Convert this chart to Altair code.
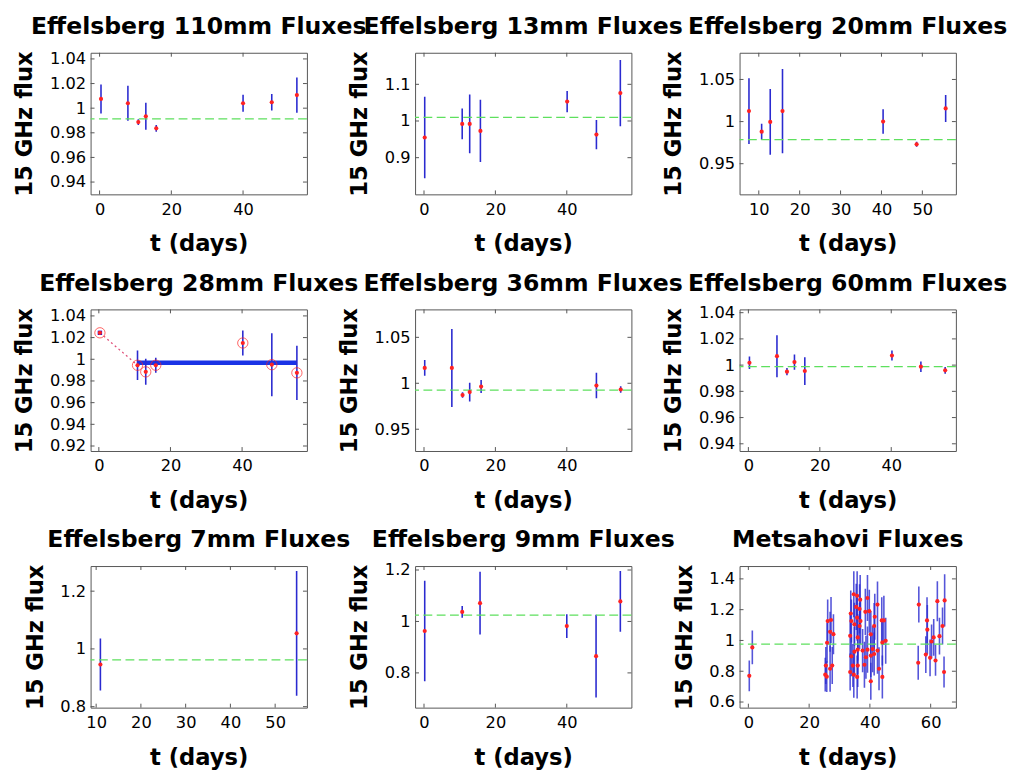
import altair as alt
import pandas as pd

FONT = "DejaVu Sans"
W, H = 220, 144
BLUE = "#2a2ad0"
RED = "#ff2222"
GREEN = "#5ee05e"
FRAME = "#555555"

TITLES = ["Effelsberg 110mm Fluxes", "Effelsberg 13mm Fluxes", "Effelsberg 20mm Fluxes",
          "Effelsberg 28mm Fluxes", "Effelsberg 36mm Fluxes", "Effelsberg 60mm Fluxes",
          "Effelsberg 7mm Fluxes", "Effelsberg 9mm Fluxes", "Metsahovi Fluxes"]
X_TITLE = "t (days)"
Y_TITLE = "15 GHz flux"

# ---- Effelsberg 110mm
T_110 = [0.4, 7.9, 10.8, 12.9, 15.8, 40.0, 48.0, 55.0]
F_110 = [1.0075, 1.0040, 0.9887, 0.9934, 0.9836, 1.0040, 1.0048, 1.0106]
E_110 = [0.0118, 0.0143, 0.0023, 0.0110, 0.0028, 0.0070, 0.0067, 0.0144]
M_110 = 0.9913

# ---- Effelsberg 13mm
T_13 = [0.2, 10.7, 12.8, 15.8, 40.1, 48.3, 55.0]
F_13 = [0.955, 0.992, 0.992, 0.973, 1.053, 0.963, 1.076]
E_13 = [0.111, 0.042, 0.080, 0.085, 0.029, 0.040, 0.090]
M_13 = 1.0099

# ---- Effelsberg 20mm
T_20 = [7.6, 10.7, 12.8, 15.8, 40.4, 48.6, 55.7]
F_20 = [1.0125, 0.9880, 0.9996, 1.0125, 1.0000, 0.9730, 1.0156]
E_20 = [0.0390, 0.0095, 0.0390, 0.0500, 0.0145, 0.0030, 0.0160]
M_20 = 0.9786

# ---- Effelsberg 28mm
T_28 = [0.3, 10.8, 13.1, 15.9, 40.2, 48.3, 55.3]
F_28 = [1.0244, 0.9945, 0.9884, 0.9945, 1.0150, 0.9950, 0.9875]
E_28 = [0.0, 0.0135, 0.0120, 0.0070, 0.0115, 0.0290, 0.0250]
FIT_28_T = [10.8, 55.3]
FIT_28_F = 0.9968

# ---- Effelsberg 36mm
T_36 = [0.2, 7.8, 10.8, 12.8, 16.0, 48.3, 55.1]
F_36 = [1.0167, 1.0167, 0.9872, 0.9904, 0.9964, 0.9975, 0.9932]
E_36 = [0.0086, 0.0425, 0.0030, 0.0102, 0.0071, 0.0139, 0.0035]
M_36 = 0.9925

# ---- Effelsberg 60mm
T_60 = [0.3, 8.0, 10.8, 12.9, 15.8, 40.2, 48.3, 55.1]
F_60 = [1.0018, 1.0068, 0.9950, 1.0023, 0.9955, 1.0073, 0.9988, 0.9960]
E_60 = [0.0048, 0.0160, 0.0028, 0.0058, 0.0106, 0.0038, 0.0040, 0.0025]
M_60 = 0.9988

# ---- Effelsberg 7mm
T_7 = [10.95, 54.8]
F_7 = [0.946, 1.054]
E_7 = [0.090, 0.216]
M_7 = 0.962

# ---- Effelsberg 9mm
T_9 = [0.2, 10.7, 15.7, 40.0, 48.2, 55.0]
F_9 = [0.963, 1.037, 1.071, 0.982, 0.865, 1.078]
E_9 = [0.195, 0.023, 0.122, 0.046, 0.161, 0.118]
M_9 = 1.0244

# ---- Metsahovi
T_MET = [0.3, 1.3, 25.3, 25.5, 25.8, 25.9, 26.1, 26.9, 26.9, 27.2, 27.6, 28.0,
         33.5, 33.5, 33.7, 33.9, 33.9, 34.4, 34.7, 34.7, 34.9, 34.9, 35.5, 35.8,
         35.8, 35.8, 36.0, 36.0, 36.0, 36.6, 36.6, 36.8, 36.9, 37.6, 38.2, 38.5,
         38.7, 39.2, 39.2, 39.8, 40.3, 40.3, 40.3, 40.9, 41.4, 41.4, 41.6, 42.5,
         42.5, 43.0, 43.9, 44.1, 44.1, 44.6, 45.2, 55.9, 56.1, 58.4, 58.8, 58.9,
         59.8, 60.3, 61.0, 61.6, 62.2, 62.9, 63.9, 64.4, 64.6]
F_MET = [0.770, 0.955, 0.778, 0.837, 0.765, 0.985, 1.126, 1.056, 0.816, 1.133, 0.837, 1.041,
         1.030, 0.795, 1.175, 1.126, 0.897, 0.837, 1.300, 0.778, 1.105, 0.927, 1.218, 1.290,
         1.148, 0.763, 1.020, 0.940, 0.837, 1.205, 1.094, 1.265, 1.126, 0.934, 0.842, 1.186,
         0.891, 1.276, 0.940, 1.190, 1.040, 0.902, 0.735, 0.944, 1.094, 0.912, 1.154, 1.233,
         0.934, 0.816, 1.130, 0.987, 0.763, 1.130, 0.998, 0.855, 1.233, 0.908, 1.130, 1.070,
         0.887, 0.993, 1.020, 0.870, 1.255, 1.028, 1.094, 0.795, 1.260]
E_MET = [0.100, 0.110, 0.110, 0.120, 0.100, 0.130, 0.140, 0.130, 0.150, 0.150, 0.120, 0.130,
         0.140, 0.120, 0.150, 0.140, 0.130, 0.140, 0.150, 0.150, 0.140, 0.160, 0.150, 0.160,
         0.150, 0.140, 0.150, 0.160, 0.140, 0.160, 0.150, 0.160, 0.150, 0.140, 0.150, 0.150,
         0.140, 0.150, 0.150, 0.140, 0.150, 0.140, 0.120, 0.150, 0.150, 0.140, 0.150, 0.150,
         0.150, 0.140, 0.150, 0.150, 0.140, 0.160, 0.150, 0.110, 0.117, 0.120, 0.150, 0.160,
         0.120, 0.110, 0.120, 0.100, 0.130, 0.120, 0.120, 0.100, 0.170]
M_MET = 0.976

# axis domains and tick values
XDOM = [[-2.5, 57.8], [-2.5, 58.1], [5.3, 58.2],
        [-2.3, 58.1], [-2.5, 58.1], [-2.47, 58.1],
        [8.76, 57.1], [-2.5, 58.1], [-2.9, 68.3]]
YDOM = [[0.930, 1.045], [0.800, 1.186], [0.9136, 1.0817],
        [0.9154, 1.046], [0.9263, 1.0804], [0.9345, 1.0425],
        [0.7966, 1.287], [0.665, 1.2154], [0.5636, 1.4834]]
XT_A = [0, 20, 40]
XT_B = [10, 20, 30, 40, 50]
XT_C = [0, 20, 40, 60]
YT_A = [0.94, 0.96, 0.98, 1.0, 1.02, 1.04]
YT_B = [0.9, 1.0, 1.1]
YT_C = [0.95, 1.0, 1.05]
YT_D = [0.92, 0.94, 0.96, 0.98, 1.0, 1.02, 1.04]
YT_E = [0.8, 1.0, 1.2]
YT_F = [0.6, 0.8, 1.0, 1.2, 1.4]
XTICKS = [XT_A, XT_A, XT_B, XT_A, XT_A, XT_A, XT_B, XT_A, XT_C]
YTICKS = [YT_A, YT_B, YT_C, YT_D, YT_C, YT_A, YT_E, YT_E, YT_F]

LABEL_EXPR = "'' + datum.value"


def panel(i, t, f, e, mean=None, special=False):
    xs = alt.Scale(domain=XDOM[i], nice=False, zero=False)
    ys = alt.Scale(domain=YDOM[i], nice=False, zero=False)
    xaxis = alt.Axis(values=XTICKS[i], labelExpr=LABEL_EXPR, title=X_TITLE)
    yaxis = alt.Axis(values=YTICKS[i], labelExpr=LABEL_EXPR, title=Y_TITLE)

    def X(field):
        return alt.X(field, type="quantitative", scale=xs, axis=xaxis)

    def Y(field):
        return alt.Y(field, type="quantitative", scale=ys, axis=yaxis)

    df = pd.DataFrame({"t": t, "f": f, "e": e})
    base = alt.Chart(df)
    layers = []
    bars = base.transform_calculate(
        lo="datum.f - datum.e", hi="datum.f + datum.e"
    ).mark_rule(color=BLUE, strokeWidth=1.6, clip=True,
                opacity=0.8 if i == 8 else 1.0).encode(
        x=X("t"), y=Y("lo"), y2="hi:Q")
    if special:
        link = alt.Chart(df.iloc[:2]).mark_line(
            color="#e0507a", strokeDash=[2, 3], strokeWidth=1.3).encode(
            x=X("t"), y=Y("f"))
        fit = alt.Chart(pd.DataFrame({"a": [FIT_28_T[0]], "b": [FIT_28_T[1]], "f": [FIT_28_F]})).mark_rule(
            color="#1a33e6", strokeWidth=4.5).encode(
            x=X("a"), x2="b:Q", y=Y("f"))
        layers += [link, fit, bars]
        layers.append(base.mark_point(shape="circle", filled=False, color=RED, size=110,
                                      strokeWidth=1).encode(x=X("t"), y=Y("f")))
        layers.append(alt.Chart(df.iloc[:1]).mark_point(shape="square", filled=True, color="#1a1ae0",
                                                        size=20, opacity=1).encode(x=X("t"), y=Y("f")))
    else:
        layers.append(bars)
        layers.append(alt.Chart(pd.DataFrame({"m": [mean]})).mark_rule(
            color=GREEN, strokeDash=[9, 4.5], strokeWidth=1.2).encode(y=Y("m")))
    layers.append(base.mark_point(shape="circle", filled=True, color=RED, size=18, opacity=1).encode(
        x=X("t"), y=Y("f")))
    # inward frame ticks on all four sides
    dx = pd.DataFrame({"v": XTICKS[i]})
    dy = pd.DataFrame({"v": YTICKS[i]})
    L = 4
    for a, b in [(H, H - L), (0, L)]:
        layers.append(alt.Chart(dx).mark_rule(color=FRAME, strokeWidth=1).encode(
            x=X("v"), y=alt.value(a), y2=alt.value(b)))
    for a, b in [(0, L), (W, W - L)]:
        layers.append(alt.Chart(dy).mark_rule(color=FRAME, strokeWidth=1).encode(
            y=Y("v"), x=alt.value(a), x2=alt.value(b)))
    layers.append(alt.Chart(pd.DataFrame({"title": [TITLES[i]]})).mark_text(
        font=FONT, fontSize=24, fontWeight="bold", color="black",
        baseline="alphabetic", align="center").encode(
        text="title:N", x=alt.value(W / 2), y=alt.value(-19)))
    return alt.layer(*layers).properties(width=W, height=H)


panels = [
    panel(0, T_110, F_110, E_110, M_110),
    panel(1, T_13, F_13, E_13, M_13),
    panel(2, T_20, F_20, E_20, M_20),
    panel(3, T_28, F_28, E_28, special=True),
    panel(4, T_36, F_36, E_36, M_36),
    panel(5, T_60, F_60, E_60, M_60),
    panel(6, T_7, F_7, E_7, M_7),
    panel(7, T_9, F_9, E_9, M_9),
    panel(8, T_MET, F_MET, E_MET, M_MET),
]

chart = alt.concat(
    *panels, columns=3,
    spacing=alt.RowColnumber(row=117, column=110),
    bounds="flush",
).properties(
    padding={"left": 5, "top": 0, "right": 0, "bottom": 0},
    background="white",
).configure_view(
    stroke=FRAME, strokeWidth=1,
).configure_axis(
    domain=False, ticks=False, grid=False,
    labelFont=FONT, labelFontSize=16.5, labelColor="black",
    titleFont=FONT, titleFontSize=23, titleFontWeight="bold", titleColor="black",
).configure_axisX(
    labelPadding=7, titlePadding=16,
).configure_axisY(
    labelPadding=5, titlePadding=13,
)

chart.save("out.html", embed_options={"renderer": "svg", "actions": False})
